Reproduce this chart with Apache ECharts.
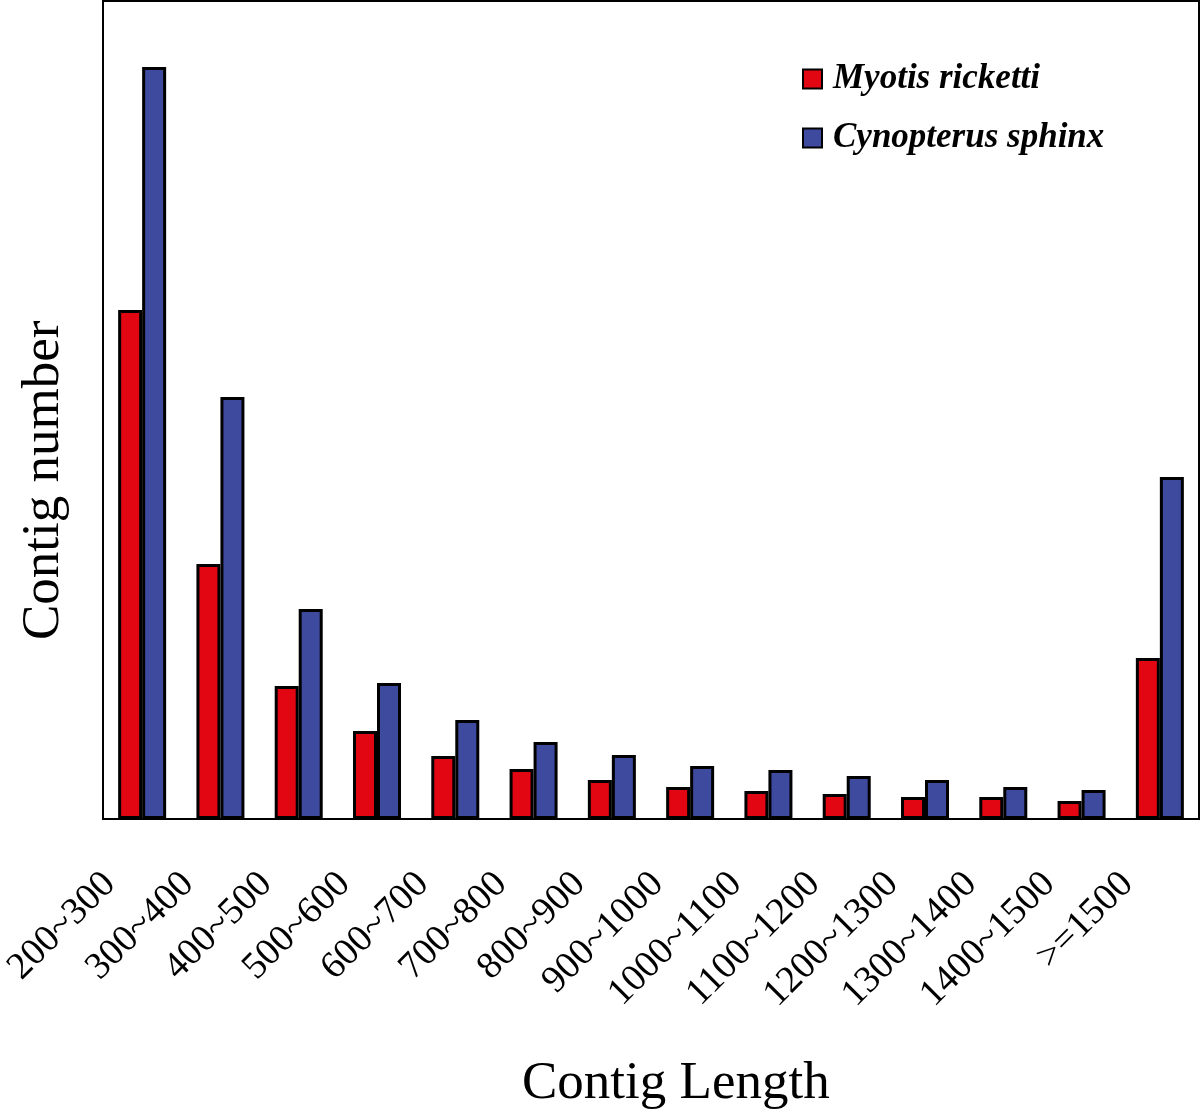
<!DOCTYPE html>
<html>
<head>
<meta charset="utf-8">
<script src="https://cdn.jsdelivr.net/npm/echarts@6/dist/echarts.min.js"></script>
<style>
  html, body { margin: 0; padding: 0; background: #fff; }
  #main { width: 1200px; height: 1119px; }
</style>
</head>
<body>
<div id="main"></div>
<script>
// contig length bins
var categories = ['200~300', '300~400', '400~500', '500~600', '600~700', '700~800', '800~900',
  '900~1000', '1000~1100', '1100~1200', '1200~1300', '1300~1400', '1400~1500', '>=1500']
// bar heights (no scale printed, relative units)
var myotis = [509, 255, 133, 88, 63, 50, 39, 32, 28, 25, 22, 22, 18, 161]
var cynopterus = [752, 422, 210, 136, 99, 77, 64, 53, 49, 43, 39, 32, 29, 342]

var serif = '"Liberation Serif", "Times New Roman", serif'

var chart = echarts.init(document.getElementById('main'))
chart.setOption({
  animation: false,
  grid: {
    left: 103, right: 1, top: 1, bottom: 300, outerBoundsMode: 'none', containLabel: false,
    show: true, borderColor: '#000', borderWidth: 2
  },
  legend: {
    left: 797, top: 56, orient: 'vertical',
    itemWidth: 19, itemHeight: 19, itemGap: 23,
    icon: 'rect',
    textStyle: {
      fontFamily: serif, fontStyle: 'italic', fontWeight: 'bold', fontSize: 35, color: '#000',
      lineHeight: 36, padding: [0, 0, 0, 6]
    },
    data: ['Myotis ricketti', 'Cynopterus sphinx']
  },
  xAxis: {
    type: 'category',
    data: categories,
    axisLine: { lineStyle: { color: '#000', width: 2 } },
    axisTick: { show: false },
    axisLabel: {
      interval: 0, rotate: 45, margin: 27,
      padding: [0, 46, 0, 0],
      fontFamily: serif, fontSize: 38, color: '#000'
    }
  },
  yAxis: {
    type: 'value', min: 0, max: 818,
    axisLine: { show: true, lineStyle: { color: '#000', width: 2 } },
    axisTick: { show: false },
    axisLabel: { show: false },
    splitLine: { show: false }
  },
  series: [
    {
      name: 'Myotis ricketti', type: 'bar', data: myotis,
      barWidth: 24, barGap: '0%',
      itemStyle: { color: '#e20613', borderColor: '#000', borderWidth: 3 }
    },
    {
      name: 'Cynopterus sphinx', type: 'bar', data: cynopterus,
      barWidth: 24,
      itemStyle: { color: '#3e4a9e', borderColor: '#000', borderWidth: 3 }
    }
  ],
  graphic: [
    {
      type: 'text', left: 522, top: 1058,
      style: { text: 'Contig Length', font: '53px ' + serif, fill: '#000' }
    },
    {
      type: 'text', x: 18, y: 640, rotation: Math.PI / 2,
      style: { text: 'Contig number', font: '53px ' + serif, fill: '#000' }
    }
  ]
})
</script>
</body>
</html>
